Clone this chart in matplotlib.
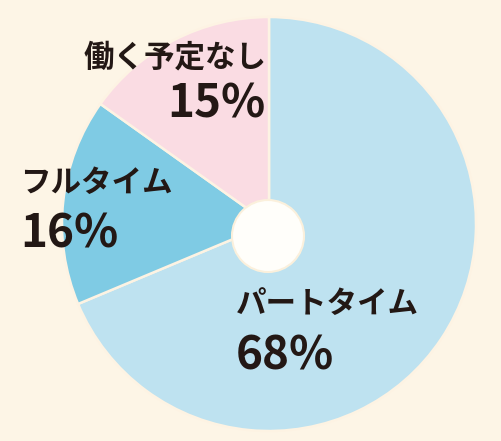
import matplotlib.pyplot as plt
from matplotlib.patches import Circle

plt.rcParams['font.family'] = ['Noto Sans CJK JP', 'DejaVu Sans']

# data
labels = ['パートタイム', 'フルタイム', '働く予定なし']
values = [68, 16, 15]
colors = ['#bee2f0', '#7fcbe4', '#fadce3']

bg = '#fdf5e6'
ink = '#231815'

fig = plt.figure(figsize=(5.02, 4.41), dpi=100, facecolor=bg)
ax = fig.add_axes([0, 0, 1, 1])
ax.set_facecolor(bg)

ax.pie(values, colors=colors, startangle=90, counterclock=False,
       center=(269, 217), radius=207, frame=True,
       wedgeprops=dict(edgecolor='#fdf3e3', linewidth=1.8))
ax.set_xlim(0, 502)
ax.set_ylim(0, 441)
ax.set_aspect('equal')
ax.axis('off')

# hole in the middle
ax.add_patch(Circle((268, 205), 36, facecolor='#fffefa', edgecolor='#fbf0dc', linewidth=1.5, zorder=5))

# labels: (x, y) of name, (x, y) of percent
pos = {
    'パートタイム': ((236, 137), (236, 84)),
    'フルタイム': ((20, 258), (20, 206)),
    '働く予定なし': ((84, 384), (167, 337)),
}
for lab, val in zip(labels, values):
    (nx, ny), (px, py) = pos[lab]
    ax.text(nx, ny, lab, fontsize=22, fontweight='bold', color=ink,
            ha='left', va='center', zorder=6)
    ax.text(px, py, f'{val}%', fontsize=33, fontweight='bold', color=ink,
            ha='left', va='center', zorder=6)

fig.savefig('out.png', dpi=100, facecolor=bg)
